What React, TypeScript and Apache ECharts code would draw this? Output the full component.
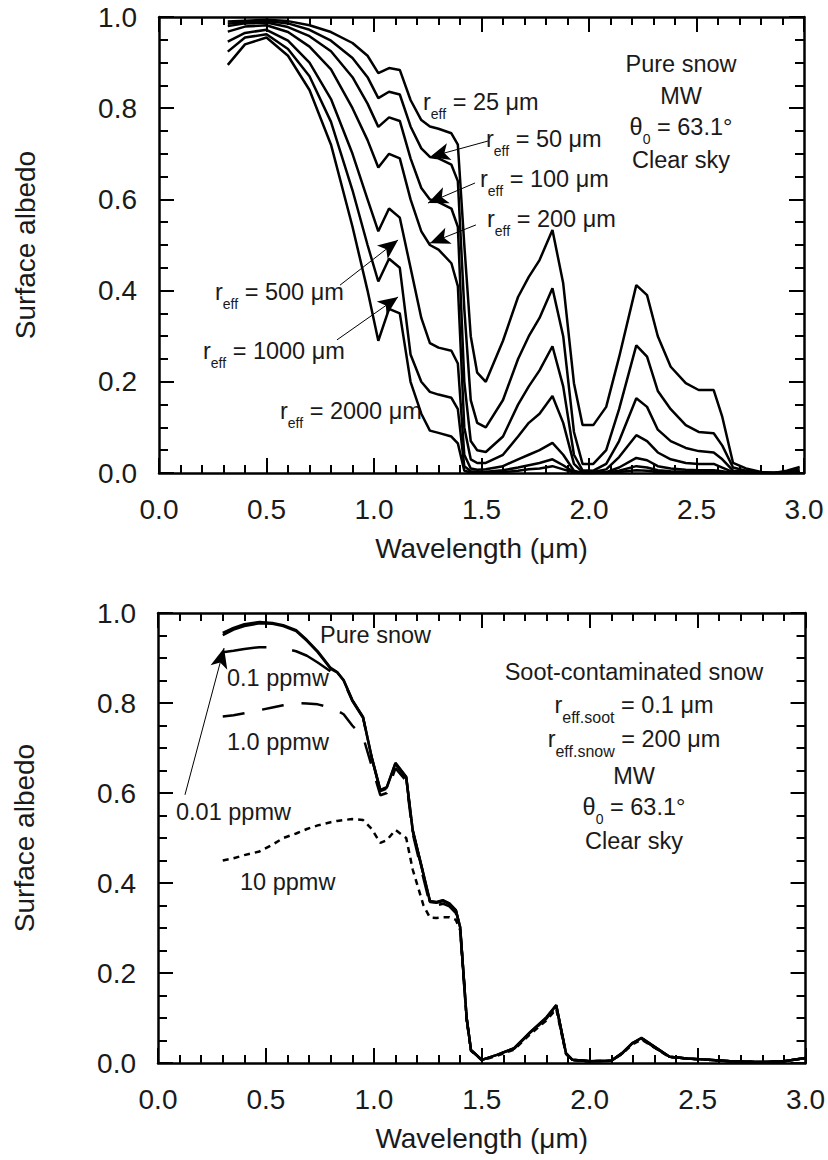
import React, { useEffect, useRef } from 'react';
import * as echarts from 'echarts';

// ---------- Top panel: pure snow, different effective radii ----------
const wlTop = [0.32, 0.4, 0.5, 0.6, 0.7, 0.8, 0.9, 0.97, 1.02, 1.07, 1.12, 1.17, 1.22, 1.26, 1.3, 1.36, 1.39, 1.42, 1.45, 1.48, 1.52, 1.6, 1.67, 1.72, 1.77, 1.83, 1.88, 1.93, 1.97, 2.02, 2.08, 2.14, 2.22, 2.27, 2.32, 2.38, 2.45, 2.51, 2.58, 2.62, 2.67, 2.73, 2.8, 2.86, 2.92, 2.98];
const albedoR25 = [0.99, 0.992, 0.994, 0.991, 0.982, 0.967, 0.943, 0.915, 0.877, 0.888, 0.884, 0.818, 0.774, 0.76, 0.755, 0.745, 0.72, 0.5, 0.3, 0.22, 0.2, 0.29, 0.386, 0.43, 0.467, 0.533, 0.416, 0.197, 0.105, 0.105, 0.145, 0.254, 0.412, 0.39, 0.3, 0.233, 0.197, 0.182, 0.182, 0.123, 0.022, 0.01, 0.002, 0.0, 0.005, 0.013];
const albedoR50 = [0.985, 0.989, 0.991, 0.986, 0.972, 0.948, 0.91, 0.868, 0.822, 0.836, 0.83, 0.76, 0.712, 0.693, 0.69, 0.676, 0.64, 0.36, 0.16, 0.11, 0.1, 0.16, 0.25, 0.3, 0.34, 0.405, 0.3, 0.09, 0.02, 0.02, 0.05, 0.14, 0.28, 0.255, 0.18, 0.14, 0.105, 0.09, 0.087, 0.06, 0.012, 0.005, 0.001, 0.0, 0.003, 0.008];
const albedoR100 = [0.98, 0.986, 0.988, 0.978, 0.958, 0.925, 0.868, 0.81, 0.759, 0.78, 0.772, 0.69, 0.625, 0.6, 0.594, 0.58, 0.54, 0.2, 0.07, 0.05, 0.046, 0.08, 0.15, 0.19, 0.225, 0.278, 0.19, 0.04, 0.006, 0.005, 0.02, 0.07, 0.164, 0.145, 0.095, 0.07, 0.055, 0.048, 0.045, 0.03, 0.005, 0.002, 0.0, 0.0, 0.001, 0.004];
const albedoR200 = [0.968, 0.979, 0.982, 0.967, 0.935, 0.885, 0.8, 0.73, 0.67, 0.7, 0.69, 0.6, 0.53, 0.5, 0.49, 0.46, 0.41, 0.1, 0.03, 0.022, 0.022, 0.04, 0.08, 0.11, 0.13, 0.169, 0.11, 0.02, 0.002, 0.002, 0.008, 0.035, 0.083, 0.07, 0.045, 0.03, 0.022, 0.02, 0.02, 0.012, 0.002, 0.0, 0.0, 0.0, 0.0, 0.002];
const albedoR500 = [0.946, 0.965, 0.972, 0.948, 0.9, 0.82, 0.7, 0.6, 0.53, 0.58, 0.56, 0.45, 0.34, 0.285, 0.275, 0.268, 0.24, 0.04, 0.01, 0.007, 0.008, 0.015, 0.03, 0.04, 0.05, 0.066, 0.04, 0.005, 0.0, 0.0, 0.002, 0.012, 0.033, 0.028, 0.015, 0.01, 0.007, 0.006, 0.006, 0.004, 0.0, 0.0, 0.0, 0.0, 0.0, 0.001];
const albedoR1000 = [0.924, 0.955, 0.962, 0.93, 0.87, 0.77, 0.62, 0.5, 0.42, 0.47, 0.45, 0.26, 0.2, 0.178, 0.172, 0.165, 0.14, 0.015, 0.004, 0.003, 0.003, 0.006, 0.012, 0.017, 0.022, 0.03, 0.017, 0.002, 0.0, 0.0, 0.001, 0.005, 0.015, 0.012, 0.006, 0.004, 0.003, 0.002, 0.002, 0.001, 0.0, 0.0, 0.0, 0.0, 0.0, 0.0];
const albedoR2000 = [0.895, 0.94, 0.955, 0.915, 0.84, 0.72, 0.54, 0.4, 0.29, 0.36, 0.35, 0.2, 0.13, 0.093, 0.088, 0.08, 0.065, 0.005, 0.001, 0.001, 0.001, 0.002, 0.005, 0.008, 0.01, 0.015, 0.008, 0.001, 0.0, 0.0, 0.0, 0.002, 0.006, 0.005, 0.002, 0.001, 0.001, 0.001, 0.001, 0.0, 0.0, 0.0, 0.0, 0.0, 0.0, 0.0];
const topSeries = [albedoR25, albedoR50, albedoR100, albedoR200, albedoR500, albedoR1000, albedoR2000];
const radiusNames = ['25', '50', '100', '200', '500', '1000', '2000'];

// ---------- Bottom panel: soot-contaminated snow ----------
const wlBottom = [0.3, 0.35, 0.4, 0.47, 0.53, 0.58, 0.64, 0.69, 0.74, 0.8, 0.83, 0.86, 0.9, 0.95, 0.99, 1.03, 1.06, 1.1, 1.15, 1.18, 1.23, 1.26, 1.29, 1.32, 1.35, 1.38, 1.4, 1.43, 1.45, 1.5, 1.57, 1.65, 1.72, 1.8, 1.845, 1.89, 1.92, 2.0, 2.1, 2.15, 2.2, 2.24, 2.31, 2.37, 2.45, 2.55, 2.65, 2.8, 2.9, 3.0];
const pureSnow = [0.956, 0.967, 0.975, 0.98, 0.978, 0.973, 0.962, 0.94, 0.915, 0.878, 0.869, 0.851, 0.807, 0.769, 0.68, 0.607, 0.613, 0.667, 0.636, 0.518, 0.42, 0.36, 0.358, 0.362, 0.355, 0.34, 0.302, 0.1, 0.029, 0.007, 0.018, 0.033, 0.067, 0.102, 0.129, 0.022, 0.007, 0.004, 0.005, 0.022, 0.045, 0.056, 0.033, 0.014, 0.01, 0.007, 0.004, 0.002, 0.004, 0.011];
const soot001 = [0.951, 0.963, 0.971, 0.977, 0.976, 0.971, 0.96, 0.938, 0.913, 0.876, 0.868, 0.85, 0.806, 0.768, 0.679, 0.606, 0.612, 0.666, 0.635, 0.517, 0.419, 0.359, 0.357, 0.361, 0.354, 0.339, 0.301, 0.1, 0.029, 0.007, 0.018, 0.033, 0.066, 0.101, 0.128, 0.022, 0.007, 0.004, 0.005, 0.022, 0.045, 0.055, 0.033, 0.014, 0.01, 0.007, 0.004, 0.002, 0.004, 0.011];
const soot01 = [0.913, 0.916, 0.92, 0.924, 0.924, 0.922, 0.915, 0.905, 0.89, 0.87, 0.863, 0.848, 0.805, 0.767, 0.678, 0.604, 0.61, 0.664, 0.633, 0.515, 0.418, 0.358, 0.356, 0.36, 0.353, 0.338, 0.3, 0.099, 0.028, 0.007, 0.018, 0.032, 0.066, 0.1, 0.127, 0.021, 0.007, 0.004, 0.005, 0.021, 0.044, 0.055, 0.032, 0.014, 0.01, 0.007, 0.004, 0.002, 0.004, 0.011];
const soot1 = [0.77, 0.773, 0.777, 0.784, 0.79, 0.795, 0.8, 0.799, 0.797, 0.79, 0.783, 0.775, 0.75, 0.725, 0.66, 0.595, 0.6, 0.655, 0.627, 0.51, 0.41, 0.352, 0.35, 0.354, 0.348, 0.333, 0.298, 0.098, 0.028, 0.007, 0.017, 0.032, 0.065, 0.099, 0.125, 0.021, 0.007, 0.004, 0.005, 0.021, 0.044, 0.054, 0.032, 0.014, 0.01, 0.007, 0.004, 0.002, 0.004, 0.011];
const soot10 = [0.45, 0.455, 0.462, 0.47, 0.485, 0.5, 0.51, 0.52, 0.528, 0.535, 0.538, 0.54, 0.542, 0.54, 0.52, 0.489, 0.495, 0.518, 0.5, 0.43, 0.35, 0.323, 0.322, 0.324, 0.324, 0.318, 0.295, 0.095, 0.027, 0.006, 0.016, 0.03, 0.062, 0.095, 0.12, 0.02, 0.006, 0.004, 0.005, 0.02, 0.042, 0.052, 0.031, 0.013, 0.01, 0.007, 0.004, 0.002, 0.004, 0.011];

const xTickLabels = ['0.0', '0.5', '1.0', '1.5', '2.0', '2.5', '3.0'];

const FONT = '"Liberation Sans", Arial, Helvetica, sans-serif';
const INK = '#1a1a1a';
const ANN = 23.5;

const pairs = (xs: number[], ys: number[]) => xs.map((x, i) => [x, ys[i]]);

function makeRich(subSize: number) {
  return {
    m: { fontSize: ANN, lineHeight: 26, verticalAlign: 'top', fontFamily: FONT, fill: INK },
    s: { fontSize: subSize, lineHeight: subSize, padding: [24 - subSize / 2, 0, 0, 0], verticalAlign: 'top', fontFamily: FONT, fill: INK },
  };
}

function subText(x: number, y: number, main: string, sub: string, rest: string, align = 'left', subSize = 14) {
  return {
    type: 'text',
    x,
    y,
    silent: true,
    style: {
      text: `{m|${main}}{s|${sub}}{m|${rest}}`,
      rich: makeRich(subSize),
      textAlign: align,
      textVerticalAlign: 'middle',
      fontFamily: FONT,
    },
  };
}

function plainText(x: number, y: number, text: string, align = 'center') {
  return {
    type: 'text',
    x,
    y,
    silent: true,
    style: { text, fontSize: ANN, fontFamily: FONT, fill: INK, textAlign: align, textVerticalAlign: 'middle' },
  };
}

function makeXAxis(gridIndex: number, bottom: boolean) {
  return {
    type: 'value',
    gridIndex,
    position: bottom ? 'bottom' : 'top',
    min: 0,
    max: 3,
    interval: 0.5,
    name: bottom ? 'Wavelength (μm)' : '',
    nameLocation: 'middle',
    nameGap: 61,
    nameTextStyle: { fontSize: 28, fontFamily: FONT, color: INK },
    axisLine: { show: true, onZero: false, lineStyle: { color: '#000', width: 2.5 } },
    axisTick: { show: true, inside: true, length: 15, lineStyle: { color: '#000', width: 2 } },
    minorTick: { show: true, splitNumber: 5, length: 8, lineStyle: { color: '#000', width: 2 } },
    axisLabel: {
      show: bottom,
      fontSize: 28,
      fontFamily: FONT,
      color: INK,
      margin: 22,
      formatter: (v: number) => xTickLabels[Math.round(v / 0.5)] ?? v.toFixed(1),
    },
    splitLine: { show: false },
    minorSplitLine: { show: false },
  };
}

function makeYAxis(gridIndex: number, left: boolean) {
  return {
    type: 'value',
    gridIndex,
    position: left ? 'left' : 'right',
    min: 0,
    max: 1,
    interval: 0.2,
    name: left ? 'Surface albedo' : '',
    nameLocation: 'middle',
    nameGap: 120,
    nameRotate: 90,
    nameTextStyle: { fontSize: 28, fontFamily: FONT, color: INK },
    axisLine: { show: true, onZero: false, lineStyle: { color: '#000', width: 2.5 } },
    axisTick: { show: true, inside: true, length: 15, lineStyle: { color: '#000', width: 2 } },
    minorTick: { show: true, splitNumber: 4, length: 9, lineStyle: { color: '#000', width: 2 } },
    axisLabel: {
      show: left,
      fontSize: 28,
      fontFamily: FONT,
      color: INK,
      margin: 22,
      formatter: (v: number) => v.toFixed(1),
    },
    splitLine: { show: false },
    minorSplitLine: { show: false },
  };
}

const arrowStyle = {
  silent: true,
  symbol: ['none', 'arrow'],
  symbolSize: [13, 20],
  label: { show: false },
  lineStyle: { color: '#000', width: 1, type: 'solid' },
  itemStyle: { color: '#000' },
  emphasis: { disabled: true },
};

export default function App() {
  const ref = useRef<HTMLDivElement>(null);

  useEffect(() => {
    if (!ref.current) return;
    const chart = echarts.init(ref.current, undefined, { renderer: 'svg' });

    const series: any[] = [];
    topSeries.forEach((vals, i) => {
      const s: any = {
        type: 'line',
        name: `r_eff = ${radiusNames[i]} μm`,
        xAxisIndex: 0,
        yAxisIndex: 0,
        data: pairs(wlTop, vals),
        showSymbol: false,
        symbol: 'none',
        lineStyle: { color: '#000', width: 2.5 },
        z: 3,
      };
      if (i === 0) {
        s.markLine = {
          ...arrowStyle,
          data: [
            [{ coord: [1.53, 0.728] }, { coord: [1.26, 0.693] }],
            [{ coord: [1.47, 0.636] }, { coord: [1.251, 0.592] }],
            [{ coord: [1.474, 0.544] }, { coord: [1.26, 0.504] }],
            [{ coord: [0.842, 0.412] }, { coord: [1.112, 0.511] }],
            [{ coord: [0.828, 0.292] }, { coord: [1.112, 0.386] }],
          ],
        };
      }
      series.push(s);
    });

    const bottomDefs = [
      { name: 'Pure snow', vals: pureSnow, type: 'solid' as any },
      { name: '0.01 ppmw', vals: soot001, type: 'solid' as any },
      { name: '0.1 ppmw', vals: soot01, type: [44, 26] as any },
      { name: '1.0 ppmw', vals: soot1, type: [22, 18] as any },
      { name: '10 ppmw', vals: soot10, type: [6, 5] as any },
    ];
    bottomDefs.forEach((d, i) => {
      const s: any = {
        type: 'line',
        name: d.name,
        xAxisIndex: 2,
        yAxisIndex: 2,
        data: pairs(wlBottom, d.vals),
        showSymbol: false,
        symbol: 'none',
        lineStyle: { color: '#000', width: 2.5, type: d.type },
        z: 3,
      };
      if (i === 0) {
        s.markLine = {
          ...arrowStyle,
          data: [[{ coord: [0.125, 0.596] }, { coord: [0.306, 0.922] }]],
        };
      }
      series.push(s);
    });

    const graphic: any[] = [
      // top panel annotations
      subText(423, 103, 'r', 'eff', ' = 25 μm'),
      subText(486, 140, 'r', 'eff', ' = 50 μm'),
      subText(480, 180, 'r', 'eff', ' = 100 μm'),
      subText(487, 220, 'r', 'eff', ' = 200 μm'),
      subText(215, 293, 'r', 'eff', ' = 500 μm'),
      subText(203, 352, 'r', 'eff', ' = 1000 μm'),
      subText(280, 412, 'r', 'eff', ' = 2000 μm'),
      plainText(681, 64, 'Pure snow'),
      plainText(681, 96, 'MW'),
      subText(681, 128, 'θ', '0', ' = 63.1°', 'center'),
      plainText(681, 160, 'Clear sky'),
      // bottom panel annotations
      plainText(320, 635, 'Pure snow', 'left'),
      plainText(227, 678, '0.1 ppmw', 'left'),
      plainText(227, 742, '1.0 ppmw', 'left'),
      plainText(176, 812, '0.01 ppmw', 'left'),
      plainText(240, 882, '10 ppmw', 'left'),
      plainText(634, 672, 'Soot-contaminated snow'),
      subText(634, 706, 'r', 'eff.soot', ' = 0.1 μm', 'center', 16),
      subText(634, 740, 'r', 'eff.snow', ' = 200 μm', 'center', 16),
      plainText(634, 776, 'MW'),
      subText(634, 808, 'θ', '0', ' = 63.1°', 'center'),
      plainText(634, 841, 'Clear sky'),
    ];

    chart.setOption({
      animation: false,
      backgroundColor: '#fff',
      textStyle: { fontFamily: FONT },
      grid: [
        { left: 159, top: 17, width: 645, height: 456, containLabel: false },
        { left: 158, top: 613, width: 648, height: 450, containLabel: false },
      ],
      xAxis: [makeXAxis(0, true), makeXAxis(0, false), makeXAxis(1, true), makeXAxis(1, false)],
      yAxis: [makeYAxis(0, true), makeYAxis(0, false), makeYAxis(1, true), makeYAxis(1, false)],
      series,
      graphic,
    });

    return () => chart.dispose();
  }, []);

  return (
    <div
      ref={ref}
      style={{ position: 'absolute', left: 0, top: 0, width: 828, height: 1160, background: '#fff' }}
    />
  );
}
